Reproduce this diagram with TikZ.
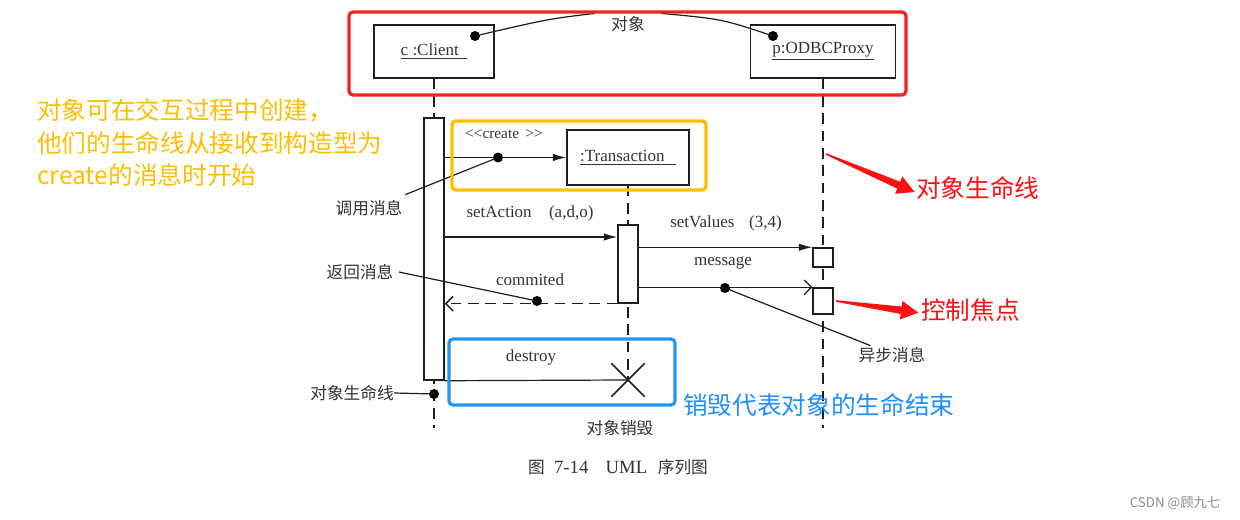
\documentclass[tikz,border=0pt]{standalone}
\usepackage{fontspec}
\setmainfont{Liberation Serif}
\newfontfamily\cjk{Noto Sans CJK SC}
\usetikzlibrary{arrows.meta,calc,shapes.misc}
\definecolor{ink}{HTML}{1E1E1E}
\definecolor{txtc}{HTML}{333333}
\definecolor{hlred}{HTML}{F22222}
\definecolor{hlorange}{HTML}{FFBE00}
\definecolor{hlblue}{HTML}{2196F3}
\definecolor{txred}{HTML}{FF1010}
\definecolor{txorange}{HTML}{FFBF00}
\definecolor{txblue}{HTML}{1E90FF}
\newcommand\taperarrow[2]{%
  \coordinate (ta) at #1;
  \coordinate (tt) at #2;
  \coordinate (tb) at ($(tt)!13pt!(ta)$);
  \fill[txred] ($(ta)!0.6pt!90:(tt)$) -- ($(tb)!2.8pt!90:(tt)$) -- ($(tb)!7pt!90:(tt)$) -- (tt)
     -- ($(tb)!7pt!-90:(tt)$) -- ($(tb)!2.8pt!-90:(tt)$) -- ($(ta)!0.6pt!-90:(tt)$) -- cycle;}
\tikzset{
  lat/.style={inner sep=0pt, text=txtc, font=\fontsize{12.75pt}{15pt}\selectfont},
  zh/.style={inner sep=0pt, text=txtc, font=\cjk\fontsize{12.5pt}{15pt}\selectfont},
  objbox/.style={draw=ink, line width=1.1pt, fill=white, inner sep=0pt, text=txtc,
    font=\fontsize{12.75pt}{15pt}\selectfont, minimum height=39.75pt},
  actbox/.style={draw=ink, line width=1.1pt, fill=white, inner sep=0pt, minimum width=15pt},
  lifeline/.style={draw=ink, line width=1.1pt, dash pattern=on 8pt off 5pt},
  syncmsg/.style={draw=ink, line width=0.9pt, -{Latex[length=10pt,width=5.5pt]}},
  asyncmsg/.style={draw=ink, line width=0.9pt, -{Straight Barb[length=5.5pt,width=11pt]}},
  retmsg/.style={draw=ink, line width=1.1pt, dash pattern=on 8pt off 5pt,
    -{Straight Barb[length=5.5pt,width=11pt]}},
  dotnode/.style={circle, fill=black, inner sep=0pt, minimum size=7.5pt},
  leader/.style={draw=ink, line width=0.9pt},
  hlbox/.style={line width=2.4pt, rounded corners=3pt},
  note/.style={inner sep=0pt, font=\cjk\fontsize{18.5pt}{22pt}\selectfont},
}
\begin{document}
\begin{tikzpicture}[x=0.75pt,y=-0.75pt]
\fill[white] (0,0) rectangle (1240,520);
\useasboundingbox (0,0) rectangle (1240,520);

% objects
\node[objbox, minimum width=90pt] (client) at (434,51.5) {\underline{c :Client\,\,\,}};
\node[objbox, minimum width=108.75pt] (proxy) at (823,51.5) {\underline{p:ODBCProxy}};
\node[objbox, minimum width=91.5pt, minimum height=41.25pt] (trans) at (628,157.5) {\underline{:Transaction\,\,\,\,}};

% lifeline end points
\coordinate (cend) at (434,428);
\coordinate (pend) at (823,428);
\node[draw=ink, line width=1.1pt, cross out, minimum size=24pt, inner sep=0pt] (xd) at (628,380) {};

\draw[lifeline] (client.south) -- (cend);
\draw[lifeline] (proxy.south) -- (pend);
\draw[lifeline] (trans.south) -- (xd.center);

% activations
\node[actbox, minimum height=196.5pt] (cact) at (434,249) {};
\node[actbox, minimum height=58.5pt] (tact) at (628,264) {};
\node[actbox, minimum height=14.25pt] (pact1) at (823,257.5) {};
\node[actbox, minimum height=19.5pt] (pact2) at (823,301) {};

% messages
\draw[syncmsg] (cact.east |- trans.west) -- (trans.west);
\node[lat, font=\fontsize{11.5pt}{14pt}\selectfont] (lcreate) at (504,134) {{<}{<}create\ \,{>}{>}};

\coordinate (ysa) at (0,237);
\draw[syncmsg] (cact.east |- ysa) -- (tact.west |- ysa);
\node[lat] (lsa) at (530,213) {setAction\hspace{13pt}(a,d,o)};

\draw[syncmsg] (tact.east |- pact1.north) -- (pact1.north west);
\node[lat] (lsv) at (726,223) {setValues\hspace{11pt}(3,4)};

\draw[asyncmsg] (tact.east |- pact2.north) -- (pact2.north west);
\node[lat] (lmsg) at (723,263) {message};

\draw[retmsg] (tact.south west) -- (cact.east |- tact.south);
\node[lat] (lcom) at (530,280) {commited};

\draw[draw=ink, line width=0.9pt] (cact.south east) -- (xd.center);
\node[lat] (ldes) at (531,357) {destroy};

% annotation dots and leaders
\node[zh] (lobj) at (628,24) {对象};
\node[dotnode] (od1) at (475,36) {};
\node[dotnode] (od2) at (773,36) {};
\draw[leader] ([xshift=-12pt,yshift=2pt]lobj.north west) .. controls (548,19) .. (od1.center);
\draw[leader] ([xshift=12pt,yshift=2pt]lobj.north east) .. controls (722,19) .. (od2.center);

\node[dotnode] (d1) at (498,157.5) {};
\node[zh] (lcall) at (369,208) {调用消息};
\draw[leader] (d1.center) -- ([xshift=2pt,yshift=4pt]lcall.north east);

\node[dotnode] (d2) at (537,301) {};
\node[zh] (lret) at (360,272) {返回消息};
\draw[leader] ([xshift=4pt]lret.east) -- (d2.center);

\node[dotnode] (d3) at (725,288) {};
\node[zh] (lasync) at (892,355) {异步消息};
\draw[leader] (d3.center) -- ([xshift=9pt,yshift=1pt]lasync.north west);

\node[dotnode] (d4) at (434,394) {};
\node[zh] (llife) at (352,393) {对象生命线};
\draw[leader] (llife.east) -- (d4.center);

\node[zh] (ldestroy) at (620,428) {对象销毁};

% caption
\node[inner sep=0pt, text=txtc] (cap) at (618,467)
  {{\cjk\fontsize{12.5pt}{15pt}\selectfont 图}\hspace{7pt}{\fontsize{14pt}{16pt}\selectfont 7-14\hspace{13pt}UML}\hspace{8pt}{\cjk\fontsize{12.5pt}{15pt}\selectfont 序列图}};

% highlight boxes
\draw[hlbox, draw=hlred] (349,12) rectangle (906,95);
\draw[hlbox, draw=hlorange, line width=2.6pt] (452,121) rectangle (706,190);
\draw[hlbox, draw=hlblue] (449,339) rectangle (675,405);

% notes
\node[note, text=txorange, anchor=west] (o1) at (37,110) {对象可在交互过程中创建，};
\node[note, text=txorange, anchor=west] (o2) at (37,143) {他们的生命线从接收到构造型为};
\node[note, text=txorange, anchor=west] (o3) at (37,175) {create的消息时开始};

\node[note, text=txred, anchor=west] (rlife) at (916,188) {对象生命线};
\node[note, text=txred, anchor=west] (rfocus) at (921,310) {控制焦点};
\node[note, text=txblue, anchor=west] (bnote) at (683,405) {销毁代表对象的生命结束};

\coordinate (ra1) at (826,154);
\coordinate (ra2) at (836,301);
\taperarrow{(ra1)}{([xshift=-1pt,yshift=-3pt]rlife.west)}
\taperarrow{(ra2)}{([xshift=-2pt,yshift=-2pt]rfocus.west)}

\node[inner sep=0pt, text=black!45, font=\cjk\fontsize{10pt}{12pt}\selectfont] (csdn) at (1175,503) {CSDN @顾九七};
\end{tikzpicture}
\end{document}
